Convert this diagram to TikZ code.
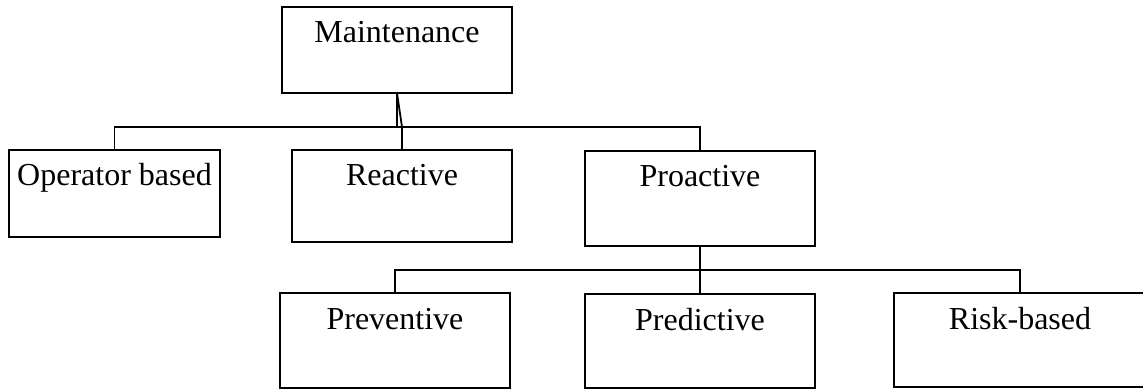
\documentclass[tikz,border=0pt]{standalone}
\usepackage{fontspec}
\setmainfont{Liberation Serif}
\usepackage{tikz}
\usetikzlibrary{calc}
\usepackage{xcolor}

\begin{document}
\begin{tikzpicture}
    \tikzset{
        blk/.style={draw,line width=0.9pt,rectangle,anchor=north west,
            inner sep=0pt,outer sep=0pt,text height=18pt,
            font=\fontsize{16}{19}\selectfont},
        wire/.style={line width=0.9pt},
        x={(0.5pt,0pt)},
        y={(0pt,-0.5pt)}
    }
    \clip (0,0) rectangle (1143,389);
    \node[blk,minimum width=115pt,text depth=25pt]   (maint)   at (282,7)   {Maintenance};
    \node[blk,minimum width=105.5pt,text depth=25.5pt] (oper)  at (9,150)   {Operator based};
    \node[blk,minimum width=110pt,text depth=28pt]   (react)   at (292,150) {Reactive};
    \node[blk,minimum width=115pt,text depth=29.5pt] (proact)  at (585,151) {Proactive};
    \node[blk,minimum width=115pt,text depth=29.5pt] (prevent) at (280,293) {Preventive};
    \node[blk,minimum width=115pt,text depth=29pt]   (predict) at (585,294) {Predictive};
    \node[blk,minimum width=126pt,text depth=29pt]   (risk)    at (894,293) {Risk-based};
    % buses
    \coordinate (bus)  at (0,127);
    \coordinate (bus2) at (0,270);
    \draw[wire] (oper.north) |- (bus -| proact.north) -- (proact.north);
    \draw[wire] (maint.south) -- (maint.south |- bus);
    \draw[wire] (maint.south) -- (react.north |- bus) -- (react.north);
    \draw[wire] (proact.south) -- (proact.south |- bus2);
    \draw[wire] (prevent.north) |- (bus2 -| risk.north) -- (risk.north);
    \draw[wire] (bus2 -| predict.north) -- (predict.north);
\end{tikzpicture}
\end{document}
